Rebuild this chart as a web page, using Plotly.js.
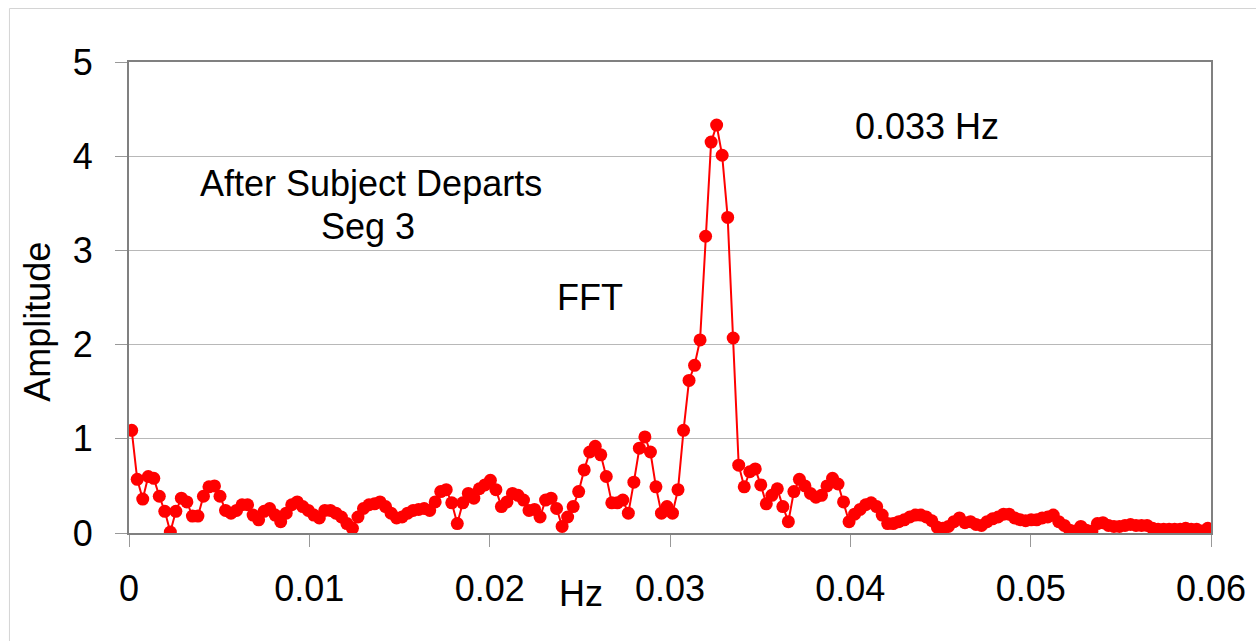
<!DOCTYPE html>
<html>
<head>
<meta charset="utf-8">
<script src="https://cdn.plot.ly/plotly-3.0.1.min.js"></script>
<style>
  html, body { margin: 0; padding: 0; background: #ffffff; }
  #chart { width: 1256px; height: 641px; }
</style>
</head>
<body>
<div id="chart"></div>
<script>
// FFT bin spacing (Hz) and first-bin frequency
const binWidth = 0.000306;
const firstBin = 0.00015;

// Amplitude of each FFT bin
const amplitude = [
  1.09, 0.57, 0.36, 0.60, 0.58, 0.39, 0.23, 0.01, 0.23, 0.37,
  0.33, 0.18, 0.18, 0.39, 0.49, 0.50, 0.39, 0.24, 0.21, 0.24,
  0.30, 0.30, 0.19, 0.14, 0.23, 0.26, 0.19, 0.12, 0.21, 0.30,
  0.33, 0.28, 0.24, 0.19, 0.16, 0.24, 0.24, 0.21, 0.17, 0.10,
  0.05, 0.17, 0.26, 0.30, 0.31, 0.33, 0.28, 0.21, 0.16, 0.17,
  0.21, 0.24, 0.25, 0.26, 0.24, 0.33, 0.44, 0.46, 0.32, 0.10,
  0.32, 0.42, 0.37, 0.47, 0.51, 0.56, 0.46, 0.28, 0.33, 0.42,
  0.40, 0.35, 0.24, 0.25, 0.17, 0.35, 0.37, 0.26, 0.07, 0.17,
  0.28, 0.44, 0.67, 0.86, 0.92, 0.83, 0.60, 0.32, 0.32, 0.35,
  0.21, 0.54, 0.90, 1.02, 0.86, 0.49, 0.21, 0.28, 0.21, 0.46,
  1.09, 1.62, 1.78, 2.05, 3.15, 4.15, 4.33, 4.01, 3.35, 2.07,
  0.72, 0.49, 0.65, 0.68, 0.51, 0.31, 0.40, 0.47, 0.28, 0.12,
  0.44, 0.57, 0.50, 0.42, 0.38, 0.40, 0.50, 0.58, 0.52, 0.33,
  0.12, 0.20, 0.25, 0.30, 0.32, 0.28, 0.19, 0.10, 0.10, 0.12,
  0.14, 0.17, 0.19, 0.19, 0.17, 0.13, 0.06, 0.05, 0.07, 0.12,
  0.16, 0.11, 0.12, 0.09, 0.08, 0.12, 0.15, 0.17, 0.20, 0.20,
  0.16, 0.14, 0.13, 0.14, 0.14, 0.16, 0.17, 0.19, 0.12, 0.08,
  0.03, 0.02, 0.07, 0.03, 0.02, 0.10, 0.11, 0.08, 0.07, 0.07,
  0.08, 0.09, 0.08, 0.08, 0.08, 0.05, 0.04, 0.04, 0.04, 0.04,
  0.04, 0.05, 0.04, 0.04, 0.02, 0.05
];

// Bin frequencies of the FFT
const frequency = amplitude.map((_, i) => firstBin + i * binWidth);

// Axis ticks
const xTickVals = [0, 0.01, 0.02, 0.03, 0.04, 0.05, 0.06];
const xTickText = ["0", "0.01", "0.02", "0.03", "0.04", "0.05", "0.06"];
const yTickVals = [0, 1, 2, 3, 4, 5];
const yTickText = ["0", "1", "2", "3", "4", "5"];

// Labels
const xLabel = "Hz";
const yLabel = "Amplitude";
const noteTitle1 = "After Subject Departs";
const noteTitle2 = "Seg 3";
const noteFFT = "FFT";
const notePeak = "0.033 Hz";

const FONT = "Liberation Sans, Arial, Helvetica, sans-serif";
const FS = 36;

const trace = {
  x: frequency,
  y: amplitude,
  type: "scatter",
  mode: "lines+markers",
  line: { color: "#ff0000", width: 2 },
  marker: { color: "#ff0000", size: 13 },
  hoverinfo: "x+y",
  showlegend: false
};

function ann(text, x, y, extra) {
  return Object.assign({
    text: text, x: x, y: y, xref: "paper", yref: "paper",
    xanchor: "center", yanchor: "middle", showarrow: false,
    font: { family: FONT, size: FS, color: "#000000" }
  }, extra || {});
}

const layout = {
  width: 1256,
  height: 641,
  margin: { l: 129, r: 45, t: 62, b: 108, pad: 0 },
  paper_bgcolor: "#ffffff",
  plot_bgcolor: "#ffffff",
  font: { family: FONT, size: FS, color: "#000000" },
  xaxis: {
    range: [0, 0.06],
    tickvals: xTickVals,
    ticktext: xTickText,
    ticks: "outside",
    ticklen: 12,
    tickwidth: 1,
    tickcolor: "#999999",
    ticklabelstandoff: 11,
    showgrid: false,
    zeroline: false,
    showline: true,
    linecolor: "#808080",
    linewidth: 2,
    mirror: true,
    tickfont: { family: FONT, size: FS, color: "#000000" }
  },
  yaxis: {
    range: [0, 5],
    tickvals: yTickVals,
    ticktext: yTickText,
    ticks: "outside",
    ticklen: 12,
    tickwidth: 1,
    tickcolor: "#999999",
    ticklabelstandoff: 15,
    showgrid: true,
    gridcolor: "#b8b8b8",
    gridwidth: 1,
    zeroline: false,
    showline: true,
    linecolor: "#808080",
    linewidth: 2,
    mirror: true,
    tickfont: { family: FONT, size: FS, color: "#000000" }
  },
  shapes: [
    {
      type: "rect", xref: "paper", yref: "paper",
      x0: -0.1105, x1: 1.06, y0: -0.3, y1: 1.1136,
      line: { color: "#d4d4d4", width: 1 },
      fillcolor: "rgba(0,0,0,0)", layer: "below"
    }
  ],
  annotations: [
    ann(noteTitle1, 0.2232, 0.741),
    ann(noteTitle2, 0.2212, 0.650),
    ann(noteFFT, 0.426, 0.501),
    ann(notePeak, 0.7375, 0.864),
    ann(xLabel, 0.4177, -0.1295),
    ann(yLabel, -0.0841, 0.4486, { textangle: -90 })
  ]
};

Plotly.newPlot("chart", [trace], layout, { displayModeBar: false, staticPlot: false });
</script>
</body>
</html>
